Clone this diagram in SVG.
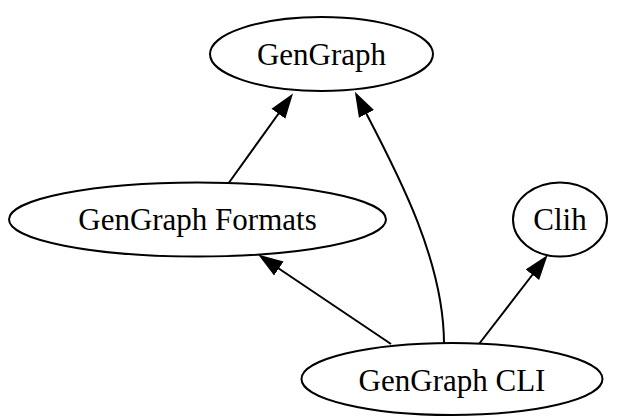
<svg xmlns="http://www.w3.org/2000/svg" width="626" height="416" viewBox="0 0 626 416">
  <style>
    .node ellipse { fill: #ffffff; stroke: #000000; stroke-width: 2; }
    .node text { font-family: "Liberation Serif", "Times New Roman", serif; font-size: 31px; fill: #000000; text-anchor: middle; }
    .edge { fill: none; stroke: #000000; stroke-width: 2; marker-end: url(#arrowhead); }
  </style>
  <defs>
    <marker id="arrowhead" markerUnits="userSpaceOnUse" viewBox="0 0 25 18" markerWidth="25" markerHeight="18" refX="1" refY="9" orient="auto">
      <path d="M0,0.5 L25,9 L0,17.5 Z" fill="#000000"/>
    </marker>
  </defs>
  <rect width="626" height="416" fill="#ffffff"/>

  <!-- dependency edges -->
  <g id="edges">
    <path class="edge" d="M228,184 L279,113"/>
    <path class="edge" d="M444,344 C444,262 399,176 366,113"/>
    <path class="edge" d="M391,344 L278,268"/>
    <path class="edge" d="M479,344 L533,274"/>
  </g>

  <g id="node-gengraph" class="node">
    <ellipse cx="321.5" cy="54" rx="111.5" ry="37"/>
    <text x="321.5" y="65">GenGraph</text>
  </g>

  <g id="node-gengraph-formats" class="node">
    <ellipse cx="197.5" cy="219.5" rx="188.5" ry="37"/>
    <text x="197.5" y="230">GenGraph Formats</text>
  </g>

  <g id="node-clih" class="node">
    <ellipse cx="560" cy="219.5" rx="47" ry="37"/>
    <text x="560" y="230">Clih</text>
  </g>

  <g id="node-gengraph-cli" class="node">
    <ellipse cx="452" cy="379" rx="150.5" ry="36"/>
    <text x="452" y="391">GenGraph CLI</text>
  </g>
</svg>
